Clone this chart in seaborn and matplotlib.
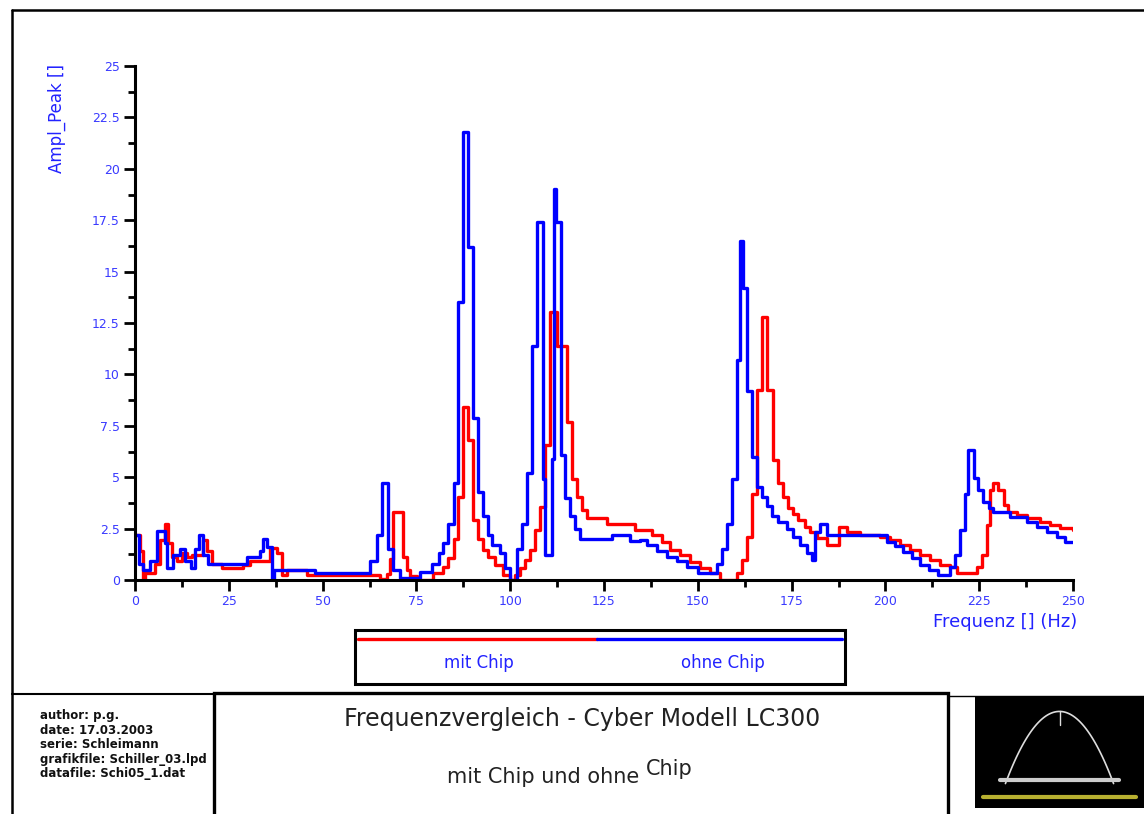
import numpy as np
import pandas as pd
import matplotlib
matplotlib.use("Agg")
import matplotlib.pyplot as plt
import seaborn as sns
from matplotlib.lines import Line2D
from matplotlib.patches import Rectangle
from matplotlib.text import Annotation

# ---------------- data ----------------
ohne_x = [0, 1.0, 2.2, 4.0, 5.8, 8.0, 8.5, 10.2, 12.0, 13.3, 15.0, 16.0, 17.0, 18.0, 19.5,
          29.8, 33.3, 34.2, 35.1, 36.4, 37.0, 48.0, 62.6, 64.4, 65.7, 67.5, 68.8, 70.5,
          76.0, 79.1, 80.9, 82.2, 83.5, 84.9, 86.2, 87.5, 88.8, 90.2, 91.5, 92.8, 94.2,
          95.1, 97.3, 98.6, 100.0, 101.7, 103.1, 104.4, 105.7, 107.1, 108.8, 109.3,
          111.1, 111.6, 112.3, 113.5, 114.7, 116.0, 117.3, 118.6, 127.0, 132.0,
          134.6, 136.4, 139.0, 141.7, 144.4, 147.0, 150.1, 155.0, 156.4, 157.7, 159.0,
          160.4, 161.3, 162.0, 163.0, 164.4, 165.7, 167.0, 168.4, 169.7, 171.5, 173.7,
          175.5, 177.2, 179.0, 180.5, 181.2, 182.6, 184.4, 200.4, 202.6, 204.8, 207.0,
          209.3, 211.5, 214.1, 217.3, 218.6, 220.0, 221.3, 222.1, 223.5, 224.8, 226.1,
          227.5, 228.8, 233.2, 237.7, 240.4, 243.0, 245.7, 247.9, 250.0]
ohne_y = [2.2, 0.8, 0.5, 0.9, 2.4, 1.8, 0.6, 1.2, 1.5, 0.9, 0.6, 1.5, 2.2, 1.2, 0.8,
          1.1, 1.4, 2.0, 1.6, 0.0, 0.5, 0.33, 0.9, 2.2, 4.7, 1.5, 0.5, 0.1,
          0.4, 0.8, 1.3, 1.8, 2.7, 4.7, 13.5, 21.8, 16.2, 7.9, 4.3, 3.1, 2.2,
          1.7, 1.3, 0.6, 0.0, 1.5, 2.7, 5.2, 11.4, 17.4, 4.9, 1.2,
          5.9, 19.0, 17.4, 6.1, 4.0, 3.1, 2.5, 2.0, 2.2, 1.9,
          1.94, 1.7, 1.4, 1.1, 0.9, 0.65, 0.32, 0.8, 1.5, 2.7, 4.9,
          10.7, 16.5, 14.2, 9.2, 6.0, 4.5, 4.05, 3.6, 3.1, 2.8, 2.5,
          2.1, 1.7, 1.3, 0.97, 2.35, 2.7, 2.2, 1.87, 1.63, 1.38, 1.06,
          0.73, 0.49, 0.25, 0.65, 1.22, 2.44, 4.2, 6.3, 4.95, 4.4, 3.8,
          3.5, 3.33, 3.08, 2.84, 2.6, 2.35, 2.1, 1.87, 1.87]

mit_x = [0, 1.3, 2.2, 2.7, 5.3, 6.7, 8.0, 8.9, 9.8, 11.1, 12.4, 13.8, 15.1, 18.0, 19.1,
         20.4, 23.1, 28.9, 30.7, 36.0, 37.8, 39.1, 40.4, 45.8, 65.3, 67.1, 68.0, 68.8,
         71.5, 72.5, 73.3, 75.1, 79.5, 82.2, 83.5, 84.9, 86.2, 87.5, 88.8, 90.2, 91.5,
         92.8, 94.2, 96.0, 98.2, 100.0, 101.3, 102.6, 104.0, 105.3, 106.6, 108.0, 109.3,
         110.6, 112.4, 115.1, 116.4, 117.7, 119.1, 120.4, 125.7, 133.3, 137.7, 140.4,
         142.6, 145.3, 148.0, 150.6, 153.3, 156.0, 160.4, 161.7, 163.0, 164.4, 165.7,
         167.0, 168.4, 170.1, 171.5, 172.8, 174.1, 175.5, 176.8, 178.5, 180.0, 181.7,
         184.4, 187.5, 189.7, 193.2, 198.6, 201.3, 203.9, 206.6, 209.3, 211.9, 214.6,
         217.3, 219.0, 224.4, 225.7, 227.0, 227.9, 228.8, 230.1, 231.5, 232.8, 235.0,
         237.7, 241.2, 243.9, 246.6, 250.0]
mit_y = [2.2, 1.4, 0.0, 0.33, 0.8, 1.95, 2.7, 1.8, 1.14, 0.9, 1.3, 1.14, 1.22, 1.95, 1.4,
         0.8, 0.57, 0.73, 0.9, 1.55, 1.3, 0.24, 0.49, 0.24, 0.05, 0.3, 1.0, 3.3,
         1.1, 0.5, 0.2, 0.0, 0.32, 0.65, 1.05, 2.0, 4.05, 8.4, 6.8, 2.9, 2.0,
         1.46, 1.13, 0.73, 0.24, 0.0, 0.24, 0.56, 0.97, 1.46, 2.43, 3.56, 6.56,
         13.05, 11.4, 7.7, 4.9, 4.05, 3.4, 3.0, 2.7, 2.43, 2.18, 1.86,
         1.46, 1.21, 0.89, 0.57, 0.32, 0.0, 0.32, 0.97, 2.1, 4.2, 9.24,
         12.8, 9.24, 5.83, 4.7, 4.05, 3.48, 3.2, 2.9, 2.6, 2.35, 2.02,
         1.7, 2.6, 2.35, 2.2, 2.11, 1.95, 1.71, 1.46, 1.22, 0.98, 0.73,
         0.65, 0.33, 0.65, 1.22, 2.68, 4.38, 4.71, 4.38, 3.65, 3.33, 3.17,
         3.0, 2.84, 2.68, 2.52, 2.43]

series_names = ["mit Chip", "ohne Chip"]
x_ticks = [0, 25, 50, 75, 100, 125, 150, 175, 200, 225, 250]
y_ticks = [0, 2.5, 5, 7.5, 10, 12.5, 15, 17.5, 20, 22.5, 25]
y_tick_labels = ["0", "2.5", "5", "7.5", "10", "12.5", "15", "17.5", "20", "22.5", "25"]
info_lines = ["author: p.g.", "date: 17.03.2003", "serie: Schleimann",
              "grafikfile: Schiller_03.lpd", "datafile: Schi05_1.dat"]

df = pd.concat([
    pd.DataFrame({"f": mit_x, "amp": mit_y, "serie": series_names[0]}),
    pd.DataFrame({"f": ohne_x, "amp": ohne_y, "serie": series_names[1]}),
], ignore_index=True)

# ---------------- figure ----------------
W, H = 1144, 814
sns.set_style("white")
plt.rcParams["font.family"] = ["DejaVu Sans"]
fig = plt.figure(figsize=(W / 100, H / 100), dpi=100)

def fx(px):
    return px / W

def fy(py):
    return 1 - py / H

ax = fig.add_axes([fx(135), fy(580), fx(1073) - fx(135), fy(66) - fy(580)])
sns.lineplot(data=df, x="f", y="amp", hue="serie", hue_order=series_names,
             palette={"mit Chip": "#ff0000", "ohne Chip": "#0000ff"},
             estimator=None, sort=True, drawstyle="steps-post", lw=2.4,
             legend=False, ax=ax)

ax.set_xlim(0, 250)
ax.set_ylim(0, 25)
ax.set_xlabel("")
ax.set_ylabel("")
for s in ["top", "right"]:
    ax.spines[s].set_visible(False)
for s in ["left", "bottom"]:
    ax.spines[s].set_linewidth(2.2)
    ax.spines[s].set_color("black")
ax.set_xticks(x_ticks)
ax.set_xticks([t + 12.5 for t in x_ticks[:-1]], minor=True)
ax.set_yticks(y_ticks)
ax.set_yticklabels(y_tick_labels)
ax.set_yticks([t + 1.25 for t in y_ticks[:-1]], minor=True)
ax.set_xticklabels([str(t) for t in x_ticks])
ax.tick_params(which="major", direction="out", length=8, width=2, color="black",
               labelcolor="#3a3aff", labelsize=9, pad=3)
ax.tick_params(which="minor", direction="out", length=5, width=2, color="black")
ax.tick_params(axis="x", which="both", bottom=True)
ax.tick_params(axis="y", which="both", left=True)
ax.set_facecolor("white")

# axis titles
fig.text(fx(57), fy(64), "Ampl_Peak []", rotation=90, color="#2222ff",
         fontsize=12, ha="center", va="top")
fig.text(fx(933), fy(622), "Frequenz [] (Hz)", color="#2222ff",
         fontsize=13, ha="left", va="center")

# legend box
fig.add_artist(Rectangle((fx(355), fy(684)), fx(845) - fx(355), fy(630) - fy(684),
                         transform=fig.transFigure, fill=False, lw=2.2, ec="black"))
fig.add_artist(Line2D([fx(358), fx(597)], [fy(639), fy(639)], transform=fig.transFigure,
                      color="#ff0000", lw=2.4))
fig.add_artist(Line2D([fx(597), fx(842)], [fy(639), fy(639)], transform=fig.transFigure,
                      color="#0000ff", lw=2.4))
fig.text(fx(479), fy(663), series_names[0], color="#2222ff", fontsize=12,
         ha="center", va="center")
fig.text(fx(723), fy(663), series_names[1], color="#2222ff", fontsize=12,
         ha="center", va="center")

# outer frame
frame_kw = dict(transform=fig.transFigure, color="black")
fig.add_artist(Line2D([fx(12), fx(12)], [fy(10), fy(814)], lw=1.8, **frame_kw))
fig.add_artist(Line2D([fx(12), fx(1144)], [fy(10), fy(10)], lw=1.8, **frame_kw))
fig.add_artist(Line2D([fx(12), fx(215)], [fy(694), fy(694)], lw=1.5, **frame_kw))
fig.add_artist(Line2D([fx(948), fx(1144)], [fy(696), fy(696)], lw=1.0, **frame_kw))

# info text (drawn first so the title box covers the overflow)
for i, t in enumerate(info_lines):
    fig.text(fx(40), fy(716 + i * 14.5), t, fontsize=8.5, fontweight="bold",
             ha="left", va="center", color="#111111", zorder=1)

# title box
fig.add_artist(Rectangle((fx(214), fy(816)), fx(948) - fx(214), fy(693) - fy(816),
                         transform=fig.transFigure, fill=True, fc="white", lw=2.4,
                         ec="black", zorder=2))
fig.text(fx(582), fy(719), "Frequenzvergleich - Cyber Modell LC300", fontsize=17,
         ha="center", va="center", color="#222222", zorder=3)
t1 = fig.text(fx(447), fy(777), "mit Chip und ohne ", fontsize=15, ha="left",
              va="center", color="#222222", zorder=3)
fig.add_artist(Annotation(
    "Chip", xy=(1.0, 0.5), xycoords=t1, xytext=(0, 6), textcoords="offset points",
    fontsize=15, ha="left", va="center", color="#222222", zorder=3))

# logo
lax = fig.add_axes([fx(975), fy(808), fx(1144) - fx(975), fy(697) - fy(808)])
lax.set_facecolor("black")
lax.set_xlim(0, 1)
lax.set_ylim(0, 1)
lax.set_xticks([])
lax.set_yticks([])
for s in lax.spines.values():
    s.set_visible(False)
tt = np.linspace(-1, 1, 60)
lax.plot(0.5 + 0.32 * tt, 0.22 + 0.65 * (1 - tt ** 2), color="#dddddd", lw=1.2)
lax.plot([0.5, 0.5], [0.75, 0.87], color="#dddddd", lw=1.0)
lax.plot([0.15, 0.85], [0.25, 0.25], color="#cccccc", lw=3)
lax.plot([0.05, 0.95], [0.1, 0.1], color="#b8b030", lw=3)

fig.savefig("out.png", dpi=100, facecolor="white")
